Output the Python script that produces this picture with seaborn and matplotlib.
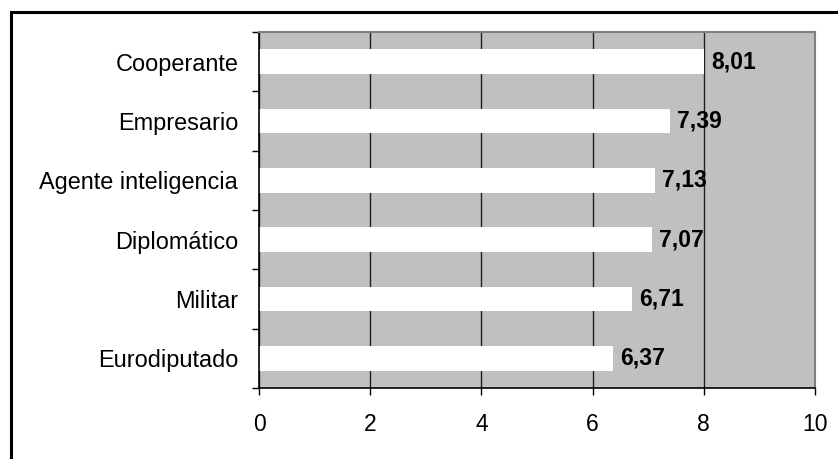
import matplotlib
matplotlib.use("Agg")
import matplotlib.pyplot as plt
import matplotlib.patches as patches
import pandas as pd
import seaborn as sns

categories = ["Cooperante", "Empresario", "Agente inteligencia", "Diplomático", "Militar", "Eurodiputado"]
values = [8.01, 7.39, 7.13, 7.07, 6.71, 6.37]
value_labels = ["8,01", "7,39", "7,13", "7,07", "6,71", "6,37"]
x_ticks = [0, 2, 4, 6, 8, 10]

df = pd.DataFrame({"categoria": categories, "valor": values})

plt.rcParams["font.family"] = ["Liberation Sans", "DejaVu Sans"]

fig = plt.figure(figsize=(8.38, 4.59), dpi=100)
ax = fig.add_axes([259 / 838, 71 / 459, 556 / 838, 356 / 459])

# outer frame (only top and left visible in the crop)
fig.patches.append(patches.Rectangle((11 / 838, -0.1), 1.2, 1.1 - 12 / 459,
                                     transform=fig.transFigure, fill=False,
                                     edgecolor="black", linewidth=2.2, clip_on=False))

ax.set_facecolor("#c0c0c0")
ax.set_axisbelow(True)
ax.grid(axis="x", color="#202020", linewidth=1.0)

sns.barplot(data=df, x="valor", y="categoria", orient="h", color="white",
            width=0.42, edgecolor="none", saturation=1, ax=ax)

for i, (v, lab) in enumerate(zip(values, value_labels)):
    ax.annotate(lab, (v, i), xytext=(5, 0), textcoords="offset points",
                ha="left", va="center", fontsize=16.5, fontweight="bold")

ax.set_xlim(0, 10)
ax.set_ylim(len(categories) - 0.5, -0.5)
ax.set_xticks(x_ticks)
ax.set_xticklabels([str(t) for t in x_ticks])
ax.set_yticks(range(len(categories)))
ax.set_yticklabels(categories)
ax.set_yticks([i - 0.5 for i in range(len(categories) + 1)], minor=True)
ax.tick_params(axis="y", which="major", length=0, pad=15, labelsize=16.9)
ax.tick_params(axis="y", which="minor", length=5, width=1, direction="out")
ax.tick_params(axis="x", length=5, width=1, direction="out", pad=13, labelsize=16.5)
ax.set_xlabel("")
ax.set_ylabel("")

ax.spines["left"].set_color("black")
ax.spines["bottom"].set_color("black")
ax.spines["left"].set_linewidth(1.2)
ax.spines["bottom"].set_linewidth(1.2)
ax.spines["top"].set_color("#808080")
ax.spines["right"].set_color("#808080")
ax.spines["top"].set_linewidth(1.5)
ax.spines["right"].set_linewidth(1.5)

plt.savefig("out.png", dpi=100)
plt.close()
